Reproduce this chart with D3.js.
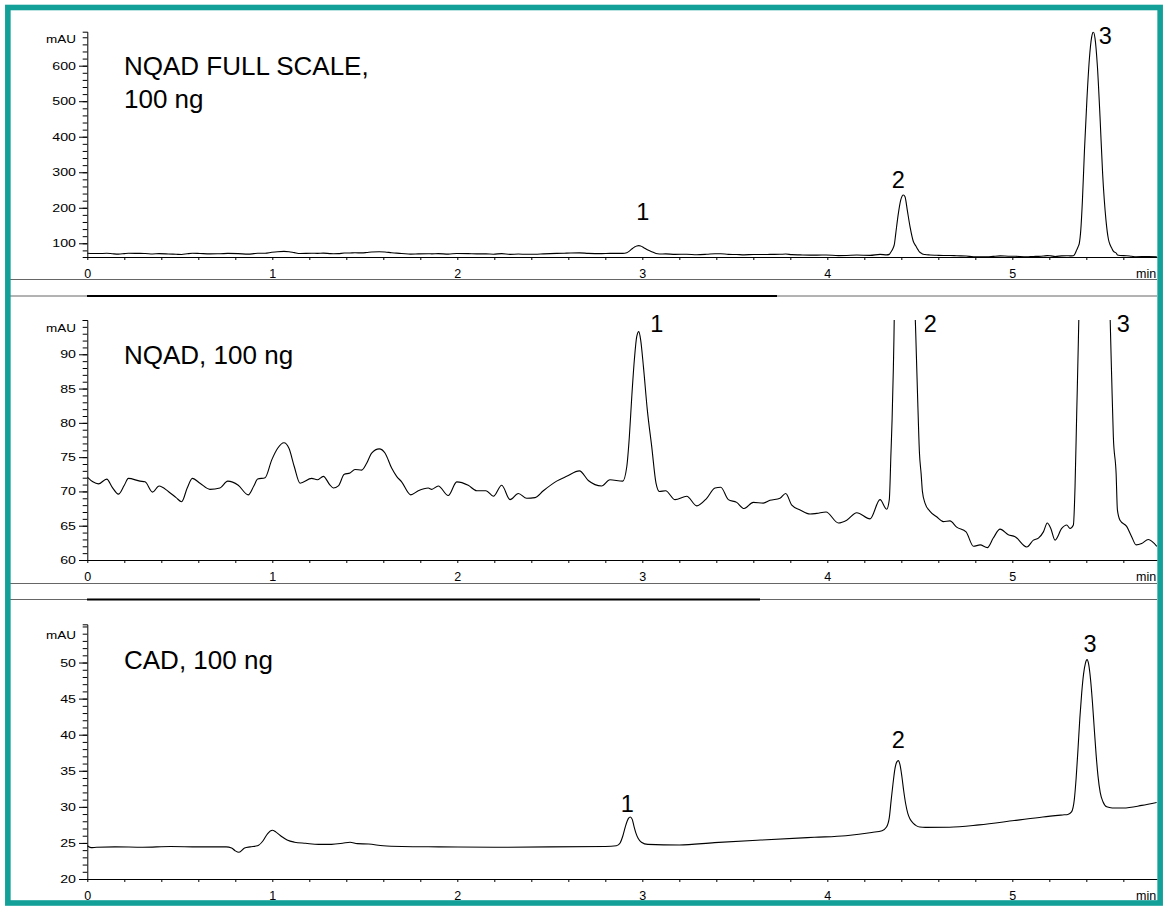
<!DOCTYPE html>
<html>
<head>
<meta charset="utf-8">
<script src="https://cdn.jsdelivr.net/npm/d3@7"></script>
<style>
  html, body { margin: 0; padding: 0; background: #fff; }
  svg { display: block; font-family: "Liberation Sans", Arial, sans-serif; }
</style>
</head>
<body>
<svg id="chart"></svg>
<script>
// NQAD trace, [retention time (min), signal (mAU)]
const nqadTrace = [
  [0,72.1],[0.03,71.4],[0.06,71.1],[0.105,71.8],[0.135,70.6],[0.168,69.6],[0.2,70.9],[0.222,71.9],
  [0.285,71.5],[0.312,71.4],[0.353,69.9],[0.388,70.8],[0.438,70.0],[0.48,69.1],[0.51,68.5],[0.54,70.5],
  [0.568,71.9],[0.609,71.2],[0.663,70.3],[0.717,70.5],[0.759,71.5],[0.816,70.9],[0.87,69.5],[0.9,70.8],
  [0.921,71.8],[0.961,72.0],[0.997,74.6],[1.029,76.3],[1.063,77.1],[1.09,76.3],[1.119,73.6],[1.15,71.2],
  [1.213,71.9],[1.243,71.7],[1.276,72.2],[1.31,71.0],[1.33,70.5],[1.357,70.8],[1.389,72.5],[1.42,72.7],
  [1.447,73.2],[1.483,73.1],[1.51,74.1],[1.537,75.6],[1.578,76.2],[1.609,75.6],[1.645,73.4],[1.672,72.2],
  [1.699,71.4],[1.748,69.5],[1.789,70.1],[1.843,70.5],[1.862,70.3],[1.897,70.8],[1.951,69.4],[1.997,71.4],
  [2.059,70.9],[2.105,70.1],[2.155,70.1],[2.195,69.3],[2.24,70.9],[2.285,68.8],[2.33,69.7],[2.375,69.0],
  [2.42,69.1],[2.465,70.1],[2.537,71.5],[2.591,72.2],[2.66,73.0],[2.708,71.6],[2.78,70.8],[2.825,71.7],
  [2.894,71.5],[2.916,73.6],[2.93,78.0],[2.943,83.8],[2.957,89.2],[2.97,92.6],[2.981,93.3],[2.991,92.1],
  [3.006,88.2],[3.027,81.9],[3.051,76.5],[3.074,71.2],[3.092,70.0],[3.126,70.1],[3.177,68.8],[3.24,69.3],
  [3.294,67.9],[3.348,69.0],[3.393,70.5],[3.424,70.6],[3.465,68.8],[3.51,68.4],[3.55,67.5],[3.6,68.4],
  [3.654,68.3],[3.69,68.7],[3.744,69.0],[3.775,69.7],[3.808,68.0],[3.853,67.3],[3.907,66.7],[3.943,66.8],
  [3.993,67.0],[4.06,65.4],[4.105,65.8],[4.159,66.9],[4.231,66.0],[4.285,68.8],[4.321,67.4],[4.335,68.8],
  [4.344,75.6],[4.35,80.4],[4.357,88],[4.362,96],[4.37,128],[4.384,184],[4.397,222],[4.411,236],
  [4.42,231],[4.432,194],[4.447,147],[4.465,105],[4.478,93],[4.489,82.9],[4.498,75.6],[4.507,72.6],
  [4.514,70.0],[4.528,68.3],[4.555,67.1],[4.591,66.3],[4.627,65.6],[4.663,65.7],[4.699,64.8],[4.75,64.1],
  [4.79,62.0],[4.826,62.2],[4.865,61.8],[4.897,63.2],[4.934,64.5],[4.978,63.7],[5.015,63.4],[5.078,61.9],
  [5.114,62.9],[5.141,63.2],[5.168,64.1],[5.189,65.4],[5.208,64.6],[5.231,62.9],[5.267,64.6],[5.294,65.1],
  [5.312,64.6],[5.33,65.1],[5.339,70.7],[5.348,81.4],[5.357,92],[5.362,100],[5.37,137],[5.379,222],
  [5.39,363],[5.403,503],[5.416,616],[5.429,681],[5.438,695],[5.447,677],[5.46,597],[5.474,456],
  [5.488,297],[5.506,166],[5.52,110],[5.529,95],[5.537,86.7],[5.546,78.0],[5.561,72.6],[5.568,67.3],
  [5.582,65.8],[5.618,64.9],[5.645,63.4],[5.669,62.2],[5.699,62.4],[5.735,63.0],[5.781,62.0]
];

// CAD trace, [retention time (min), signal (mAU)]
const cadTrace = [
  [0,24.6],[0.02,24.35],[0.05,24.4],[0.15,24.45],[0.3,24.4],[0.45,24.5],[0.6,24.45],[0.75,24.45],
  [0.78,24.3],[0.8,23.9],[0.82,23.7],[0.85,24.3],[0.88,24.45],[0.92,24.6],[0.95,25.3],[0.975,26.3],
  [1.0,26.75],[1.02,26.5],[1.05,25.9],[1.08,25.4],[1.12,25.1],[1.18,24.95],[1.25,24.8],[1.32,24.8],
  [1.38,24.95],[1.42,25.1],[1.46,24.9],[1.52,24.85],[1.6,24.6],[1.7,24.5],[1.9,24.45],[2.2,24.4],
  [2.5,24.45],[2.8,24.5],[2.86,24.6],[2.88,25.0],[2.895,26.0],[2.91,27.4],[2.925,28.4],[2.935,28.6],
  [2.945,28.3],[2.955,27.3],[2.965,26.4],[2.978,25.6],[2.995,25.1],[3.03,24.8],[3.2,24.72],[3.39,25.04],
  [3.64,25.4],[3.93,25.78],[4.1,26.0],[4.24,26.45],[4.296,26.7],[4.32,27.2],[4.335,28.5],[4.345,30.9],
  [4.355,33.2],[4.365,35.2],[4.375,36.2],[4.384,36.4],[4.393,35.8],[4.403,34.2],[4.413,32.2],[4.423,30.5],
  [4.435,29.1],[4.447,28.3],[4.465,27.7],[4.48,27.4],[4.5,27.2],[4.53,27.15],[4.66,27.17],[4.82,27.5],
  [5.01,28.1],[5.165,28.6],[5.28,28.9],[5.3,28.95],[5.32,29.3],[5.335,31.0],[5.345,34.0],[5.355,38.0],
  [5.365,42.3],[5.375,45.8],[5.385,48.4],[5.395,49.9],[5.404,50.4],[5.413,49.7],[5.423,47.6],[5.433,44.5],
  [5.443,40.8],[5.453,37.2],[5.463,34.3],[5.475,32.0],[5.49,30.7],[5.51,30.0],[5.54,29.85],[5.6,29.85],
  [5.7,30.2],[5.78,30.6]
];

// peak apex times, numbered 1..3
const peakNames = ['1', '2', '3'];
const nqadPeakTimes = [2.981, 4.411, 5.438];
const cadPeakTimes = [2.935, 4.384, 5.404];

// axis ticks
const timeTicks = [0,0.2,0.4,0.6,0.8,1,1.2,1.4,1.6,1.8,2,2.2,2.4,2.6,2.8,3,3.2,3.4,3.6,3.8,4,4.2,4.4,4.6,4.8,5,5.2,5.4,5.6];
const timeLabels = [0, 1, 2, 3, 4, 5];
const fullScaleTicks = [100, 200, 300, 400, 500, 600];
const nqadTicks = [60, 65, 70, 75, 80, 85, 90];
const cadTicks = [20, 25, 30, 35, 40, 45, 50];

const W = 1163, H = 906;
const svg = d3.select('#chart').attr('width', W).attr('height', H);
svg.append('rect').attr('width', W).attr('height', H).attr('fill', '#fff');

const x = d3.scaleLinear().domain([0, 5.782]).range([87.3, 1157]);

const panels = [
  { id: 'p1', trace: nqadTrace, peaks: nqadPeakTimes, domain: [61.4, 695.7], top: 31.7, bottom: 257,
    major: fullScaleTicks, minor: d3.range(80, 681, 20), title: ['NQAD FULL SCALE,', '100 ng'], titleY: [75, 108],
    mauY: 39, labelOff: [[4, -26], [-5, -7], [12, 12]] },
  { id: 'p2', trace: nqadTrace, peaks: nqadPeakTimes, domain: [60, 95], top: 320, bottom: 560,
    major: nqadTicks, minor: d3.range(60, 96, 1), title: ['NQAD, 100 ng'], titleY: [364],
    mauY: 328, labelOff: [[18, 0], [27, 12], [30, 12]] },
  { id: 'p3', trace: cadTrace, peaks: cadPeakTimes, domain: [20, 55.3], top: 624.3, bottom: 879,
    major: cadTicks, minor: d3.range(20, 56, 1), title: ['CAD, 100 ng'], titleY: [669],
    mauY: 635, labelOff: [[-3, -5], [0, -13], [3, -8]] }
];

// separators between the panels
const seps = [279.5, 296, 583.5, 599.5];
svg.selectAll('line.sep').data(seps).join('line')
  .attr('x1', 10).attr('x2', 1157).attr('y1', d => d).attr('y2', d => d)
  .attr('stroke', '#666').attr('stroke-width', 1);
svg.append('line').attr('x1', 87).attr('x2', 777).attr('y1', 296).attr('y2', 296)
  .attr('stroke', '#000').attr('stroke-width', 2.2);
svg.append('line').attr('x1', 87).attr('x2', 760).attr('y1', 599.5).attr('y2', 599.5)
  .attr('stroke', '#000').attr('stroke-width', 2.2);

panels.forEach(p => {
  const y = d3.scaleLinear().domain(p.domain).range([p.bottom, p.top]);
  const g = svg.append('g');

  svg.append('clipPath').attr('id', 'clip-' + p.id)
    .append('rect').attr('x', x.range()[0]).attr('y', p.top)
    .attr('width', x.range()[1] - x.range()[0]).attr('height', p.bottom - p.top);

  // x axis
  const xAxis = g.append('g').attr('transform', `translate(0,${p.bottom})`)
    .call(d3.axisBottom(x).tickValues(timeTicks).tickSize(3).tickSizeOuter(0).tickPadding(9)
      .tickFormat(d => timeLabels.includes(d) ? d : ''));
  xAxis.selectAll('text').attr('font-size', 12.5).attr('fill', '#000').attr('font-family', null);
  xAxis.append('text').attr('x', 1136).attr('y', 20.5).attr('fill', '#000')
    .attr('font-size', 12.5).attr('text-anchor', 'start').text('min');

  // y axis: minor ticks with domain line, then labelled major ticks
  g.append('g').attr('transform', `translate(${x.range()[0]},0)`)
    .call(d3.axisLeft(y).tickValues(p.minor).tickSize(4.6).tickSizeOuter(4.6).tickFormat(''));
  const yAxis = g.append('g').attr('transform', `translate(${x.range()[0]},0)`)
    .call(d3.axisLeft(y).tickValues(p.major).tickSize(8.3).tickPadding(3));
  yAxis.select('.domain').remove();
  yAxis.selectAll('text').attr('font-size', 11).attr('fill', '#000').attr('font-family', null)
    .attr('textLength', d => String(d).length * 7.9).attr('lengthAdjust', 'spacingAndGlyphs');
  g.selectAll('.tick line, .domain').attr('stroke', '#000');

  g.append('text').attr('x', 76).attr('y', p.mauY).attr('dy', '0.35em')
    .attr('text-anchor', 'end').attr('font-size', 11).attr('fill', '#000')
    .attr('textLength', 30).attr('lengthAdjust', 'spacingAndGlyphs').text('mAU');

  // trace
  g.append('path').datum(p.trace)
    .attr('clip-path', `url(#clip-${p.id})`)
    .attr('fill', 'none').attr('stroke', '#000').attr('stroke-width', 1.1)
    .attr('stroke-linejoin', 'round')
    .attr('d', d3.line().curve(d3.curveMonotoneX).x(d => x(d[0])).y(d => y(d[1])));

  // title
  g.selectAll('text.title').data(p.title).join('text').attr('class', 'title')
    .attr('x', 124).attr('y', (d, i) => p.titleY[i])
    .attr('font-size', 26).attr('fill', '#000').text(d => d);

  // peak numbers
  g.selectAll('text.peak').data(p.peaks).join('text').attr('class', 'peak')
    .attr('x', (t, i) => x(t) + p.labelOff[i][0])
    .attr('y', (t, i) => {
      const v = p.trace.find(d => d[0] === t)[1];
      return y(Math.min(v, p.domain[1])) + p.labelOff[i][1];
    })
    .attr('text-anchor', 'middle').attr('font-size', 23.5).attr('fill', '#000')
    .text((t, i) => peakNames[i]);
});

// teal frame
svg.append('rect').attr('x', 7.85).attr('y', 7.5).attr('width', 1152.3).attr('height', 895.5)
  .attr('fill', 'none').attr('stroke', '#13a099').attr('stroke-width', 5.6);
</script>
</body>
</html>
